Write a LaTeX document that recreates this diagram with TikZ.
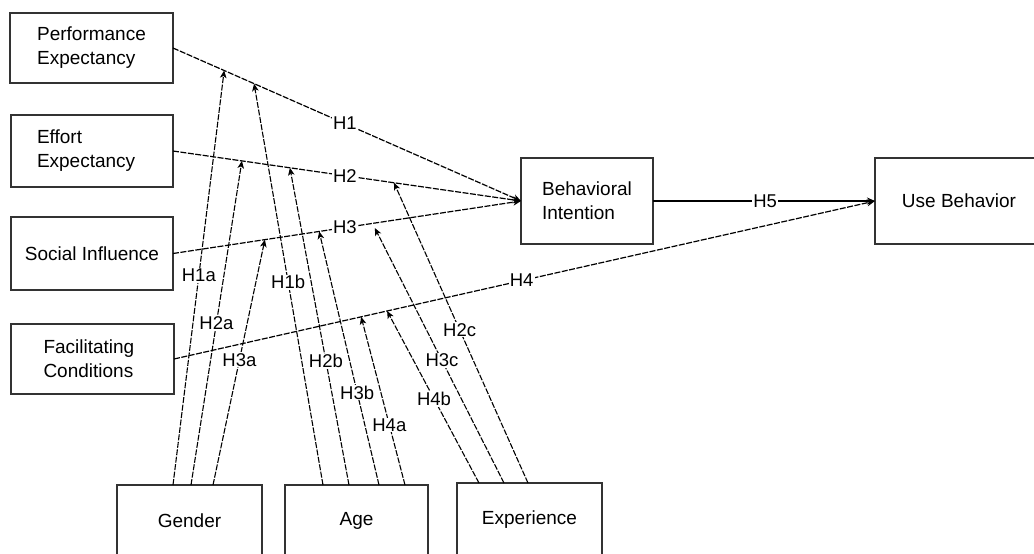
\documentclass[tikz,border=0pt]{standalone}
\usepackage{fontspec}
\setmainfont{Liberation Sans}
\usetikzlibrary{arrows.meta,calc}
\begin{document}
\begin{tikzpicture}[x=1pt,y=-1pt,
  box/.style={draw=black!80, line width=1.4pt, inner sep=0pt, outer sep=0pt,
    font=\fontsize{19}{24}\selectfont, align=left},
  effect/.style={line width=1.2pt, dash pattern=on 6pt off 1.5pt,
    -{Stealth[length=8pt,width=7pt]}},
  direct/.style={line width=1.2pt, -{Stealth[length=8pt,width=7pt]}},
  moderator/.style={line width=1.1pt, dash pattern=on 6pt off 1.5pt,
    -{Stealth[length=7.5pt,width=6.5pt,inset=2pt]}},
  hyp/.style={fill=white, inner sep=1pt, font=\fontsize{18.5}{20}\selectfont}]
\useasboundingbox (0,0) rectangle (1034,554);

% constructs
\node[box, minimum width=163pt, minimum height=70pt] (pe) at (91.5,48) {Performance\\Expectancy};
\node[box, minimum width=162pt, minimum height=72pt, text width=110pt] (ee) at (92,151) {Effort\\Expectancy};
\node[box, minimum width=162pt, minimum height=73pt, align=center] (si) at (92,253.5) {Social Influence};
\node[box, minimum width=163pt, minimum height=70pt, text width=98pt] (fc) at (92.5,359) {Facilitating\\Conditions};
\node[box, minimum width=132pt, minimum height=86pt] (bi) at (587,201) {Behavioral\\Intention};
\node[box, minimum width=168pt, minimum height=86pt] (ub) at (959,201) {Use Behavior};

% moderators
\node[box, minimum width=145pt, minimum height=72pt, align=center] (g) at (189.5,521) {Gender};
\node[box, minimum width=143pt, minimum height=72pt, align=center] (a) at (356.5,521) {Age};
\node[box, minimum width=145pt, minimum height=74pt, align=center] (x) at (529.5,520) {Experience};

% main paths
\draw[effect] (pe.east) -- node[hyp, pos=0.494] {H1} (bi.west);
\draw[effect] (ee.east) -- node[hyp, pos=0.494] {H2} (bi.west);
\draw[effect] (si.east) -- node[hyp, pos=0.494] {H3} (bi.west);
\draw[effect] (fc.east) -- node[hyp, pos=0.496] {H4} (ub.west);
\draw[direct] (bi.east) -- node[hyp, pos=0.505] {H5} (ub.west);

% points where the moderating effects meet the paths
\coordinate (t1a) at ($(pe.east)!0.147!(bi.west)$);
\coordinate (t1b) at ($(pe.east)!0.233!(bi.west)$);
\coordinate (t2a) at ($(ee.east)!0.198!(bi.west)$);
\coordinate (t2b) at ($(ee.east)!0.336!(bi.west)$);
\coordinate (t2c) at ($(ee.east)!0.635!(bi.west)$);
\coordinate (t3a) at ($(si.east)!0.264!(bi.west)$);
\coordinate (t3b) at ($(si.east)!0.420!(bi.west)$);
\coordinate (t3c) at ($(si.east)!0.580!(bi.west)+(0,5)$);
\coordinate (t4a) at ($(fc.east)!0.267!(ub.west)$);
\coordinate (t4b) at ($(fc.east)!0.304!(ub.west)$);

% gender
\draw[moderator] ([xshift=56pt]g.north west) -- node[hyp, pos=0.505] {H1a} (t1a);
\draw[moderator] ([xshift=74pt]g.north west) -- node[hyp, pos=0.50] {H2a} (t2a);
\draw[moderator] ([xshift=96pt]g.north west) -- node[hyp, pos=0.51] {H3a} (t3a);
% age
\draw[moderator] ([xshift=38pt]a.north west) -- node[hyp, pos=0.505] {H1b} (t1b);
\draw[moderator] ([xshift=64pt]a.north west) -- node[hyp, pos=0.39] {H2b} (t2b);
\draw[moderator] ([xshift=94pt]a.north west) -- node[hyp, pos=0.365] {H3b} (t3b);
\draw[moderator] ([xshift=120pt]a.north west) -- node[hyp, pos=0.357] {H4a} (t4a);
% experience
\draw[moderator] ([xshift=22pt]x.north west) -- node[hyp, pos=0.49] {H4b} (t4b);
\draw[moderator] ([xshift=47pt]x.north west) -- node[hyp, pos=0.48] {H3c} (t3c);
\draw[moderator] ([xshift=71pt]x.north west) -- node[hyp, pos=0.51] {H2c} (t2c);
\end{tikzpicture}
\end{document}
